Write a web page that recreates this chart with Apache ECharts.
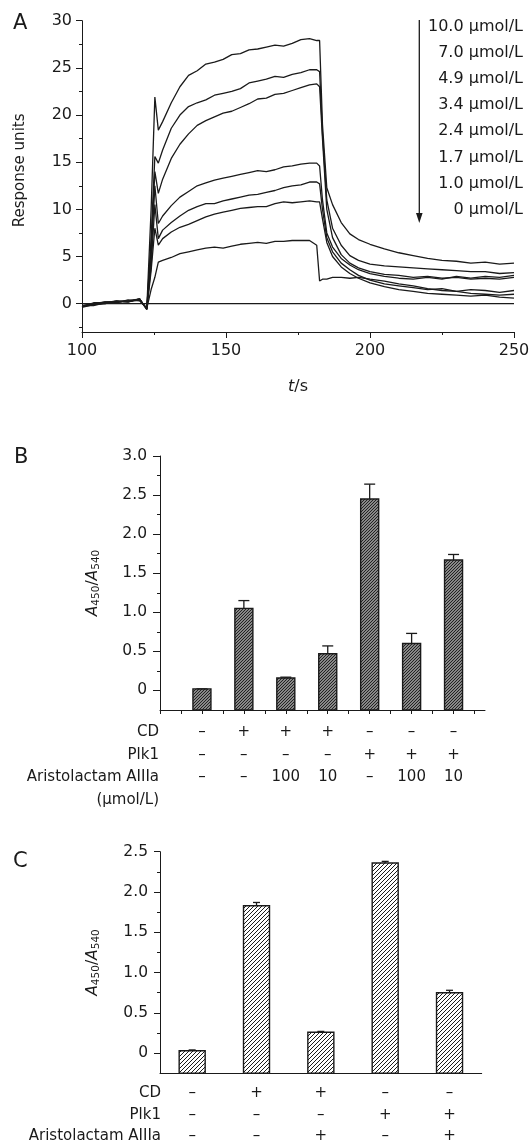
<!DOCTYPE html>
<html>
<head>
<meta charset="utf-8">
<script src="https://cdn.jsdelivr.net/npm/echarts@6/dist/echarts.min.js"></script>
<style>
  html, body { margin: 0; padding: 0; background: #fff; }
  #chart { width: 529px; height: 1147px; }
</style>
</head>
<body>
<div id="chart"></div>
<script>
// ---- panel A: binding curves (t in s, response units) ----
var times = [100, 104, 108, 112, 116, 120, 122.5, 124, 125.3, 126.5,
  128, 131, 134, 137, 140, 143, 146, 149, 152, 155, 158, 161, 164, 167, 170, 173, 176, 179,
  181.5, 182.5, 183.5, 185, 187, 190, 193, 196, 200,
  205, 210, 215, 220, 225, 230, 235, 240, 245, 250];

var resp100 = [-0.3, -0.1, 0.1, 0.2, 0.3, 0.4, -0.5, 10.0, 21.9, 18.4,
  19.3, 21.3, 23.0, 24.2, 24.7, 25.4, 25.6, 25.9, 26.4, 26.5, 26.9, 27.0, 27.2, 27.4, 27.3, 27.6, 28.0, 28.1,
  27.9, 27.9, 19.0, 12.3, 10.5, 8.6, 7.4, 6.8, 6.3,
  5.8, 5.4, 5.1, 4.8, 4.6, 4.5, 4.3, 4.4, 4.2, 4.3];
var resp70 = [-0.2, 0.0, 0.0, 0.3, 0.2, 0.5, -0.6, 7.0, 15.6, 14.9,
  16.3, 18.6, 20.0, 20.9, 21.3, 21.6, 22.1, 22.3, 22.5, 22.8, 23.4, 23.6, 23.8, 24.1, 24.0, 24.3, 24.5, 24.8,
  24.8, 24.6, 18.0, 11.0, 8.0, 6.2, 5.1, 4.6, 4.2,
  4.0, 3.9, 3.8, 3.7, 3.6, 3.5, 3.4, 3.4, 3.2, 3.3];
var resp49 = [-0.4, -0.1, 0.2, 0.1, 0.4, 0.3, -0.5, 6.0, 14.0, 11.7,
  13.2, 15.4, 16.9, 18.0, 18.9, 19.4, 19.8, 20.2, 20.4, 20.8, 21.2, 21.7, 21.8, 22.2, 22.3, 22.6, 22.9, 23.2,
  23.3, 23.0, 17.5, 10.0, 7.0, 5.2, 4.3, 3.8, 3.4,
  3.1, 3.0, 2.8, 2.9, 2.7, 2.8, 2.6, 2.7, 2.6, 2.8];
var resp34 = [-0.2, -0.2, 0.1, 0.3, 0.2, 0.5, -0.6, 5.0, 12.5, 8.5,
  9.3, 10.4, 11.3, 11.9, 12.5, 12.8, 13.1, 13.3, 13.5, 13.7, 13.9, 14.1, 14.0, 14.2, 14.5, 14.6, 14.8, 14.9,
  14.9, 14.6, 11.0, 7.5, 6.0, 4.8, 4.1, 3.6, 3.2,
  2.9, 2.7, 2.6, 2.8, 2.6, 2.9, 2.7, 2.9, 2.8, 3.0];
var resp24 = [-0.3, 0.0, 0.2, 0.2, 0.3, 0.4, -0.5, 4.0, 10.5, 6.9,
  7.8, 8.6, 9.3, 9.9, 10.3, 10.6, 10.6, 10.9, 11.1, 11.3, 11.5, 11.6, 11.8, 12.0, 12.3, 12.5, 12.6, 12.9,
  12.9, 12.7, 10.0, 7.0, 5.5, 4.3, 3.6, 3.0, 2.5,
  2.1, 1.9, 1.7, 1.5, 1.6, 1.3, 1.5, 1.4, 1.2, 1.4];
var resp17 = [-0.2, -0.1, 0.0, 0.2, 0.3, 0.5, -0.6, 3.5, 8.0, 6.2,
  6.9, 7.6, 8.1, 8.4, 8.8, 9.2, 9.5, 9.7, 9.9, 10.1, 10.2, 10.3, 10.3, 10.6, 10.8, 10.7, 10.8, 10.9,
  10.8, 10.8, 9.0, 6.5, 5.0, 3.9, 3.2, 2.7, 2.2,
  1.8, 1.5, 1.3, 1.1, 1.0, 0.9, 0.8, 0.9, 0.7, 0.6];
var resp10 = [-0.3, 0.1, 0.1, 0.2, 0.2, 0.4, -0.5, 1.5, 2.8, 4.4,
  4.6, 4.9, 5.3, 5.5, 5.7, 5.9, 6.0, 5.9, 6.1, 6.3, 6.4, 6.5, 6.4, 6.6, 6.6, 6.7, 6.7, 6.7,
  6.2, 2.4, 2.6, 2.6, 2.8, 2.8, 2.7, 2.8, 2.6,
  2.4, 2.1, 1.9, 1.6, 1.4, 1.3, 1.1, 1.0, 0.9, 1.0];
var resp0 = [0, 0, 0, 0, 0, 0, 0, 0, 0, 0,
  0, 0, 0, 0, 0, 0, 0, 0, 0, 0, 0, 0, 0, 0, 0, 0, 0, 0,
  0, 0, 0, 0, 0, 0, 0, 0, 0,
  0, 0, 0, 0, 0, 0, 0, 0, 0, 0];
var curves = [resp100, resp70, resp49, resp34, resp24, resp17, resp10, resp0];
var concLabels = ['10.0 μmol/L', '7.0 μmol/L', '4.9 μmol/L', '3.4 μmol/L',
  '2.4 μmol/L', '1.7 μmol/L', '1.0 μmol/L', '0 μmol/L'];
var aTicks = [0, 5, 10, 15, 20, 25, 30];
var aMinorTicks = [-2.5, 2.5, 7.5, 12.5, 17.5, 22.5, 27.5];

// ---- panel B ----
var bRowCD = ['–', '+', '+', '+', '–', '–', '–'];
var bRowPlk1 = ['–', '–', '–', '–', '+', '+', '+'];
var bRowAA = ['–', '–', '100', '10', '–', '100', '10'];
var bValues = [0.02, 1.05, 0.16, 0.47, 2.45, 0.60, 1.67];
var bErrors = [0, 0.10, 0.01, 0.10, 0.19, 0.13, 0.07];
var bTicks = [0, 0.5, 1, 1.5, 2, 2.5, 3];
var bMinorTicks = [0.25, 0.75, 1.25, 1.75, 2.25, 2.75];
var bXTicks = [0, 0.5, 1, 1.5, 2, 2.5, 3, 3.5, 4, 4.5, 5, 5.5, 6, 6.5, 7, 7.5];
var bSlots = [1, 2, 3, 4, 5, 6, 7];

// ---- panel C ----
var cGroups = ['ctrl', 'CD', 'CD+AA', 'Plk1', 'Plk1+AA'];
var cRowCD = ['–', '+', '+', '–', '–'];
var cRowPlk1 = ['–', '–', '–', '+', '+'];
var cRowAA = ['–', '–', '+', '–', '+'];
var cValues = [0.03, 1.83, 0.26, 2.36, 0.75];
var cErrors = [0.01, 0.04, 0.01, 0.02, 0.03];
var cTicks = [0, 0.5, 1, 1.5, 2, 2.5];
var cMinorTicks = [0.25, 0.75, 1.25, 1.75, 2.25];

var font = 'DejaVu Sans';
var ink = '#1a1a1a';
var bMin = -0.25, cMin = -0.25;

function hatch(bg, step, lw) {
  var c = document.createElement('canvas');
  c.width = step; c.height = step;
  var g = c.getContext('2d');
  g.fillStyle = bg;
  g.fillRect(0, 0, step, step);
  g.strokeStyle = '#1c1c1c';
  g.lineWidth = lw;
  g.beginPath();
  g.moveTo(-1, step + 1); g.lineTo(step + 1, -1);
  g.moveTo(-1, 1); g.lineTo(1, -1);
  g.moveTo(step - 1, step + 1); g.lineTo(step + 1, step - 1);
  g.stroke();
  return c;
}
var bPattern = { image: hatch('#b4b4b4', 3, 1.1), repeat: 'repeat' };
var cPattern = { image: hatch('#ffffff', 4, 1), repeat: 'repeat' };

function barItem(width, base, pattern) {
  return function (params, api) {
    var top = api.coord([api.value(0), api.value(1)]);
    var bottom = api.coord([api.value(0), base]);
    return {
      type: 'rect',
      shape: { x: top[0] - width / 2, y: top[1], width: width, height: bottom[1] - top[1] },
      style: { fill: pattern, stroke: ink, lineWidth: 1.4 }
    };
  };
}
function errItem(cap) {
  return function (params, api) {
    var lo = api.coord([api.value(0), api.value(1)]);
    var hi = api.coord([api.value(0), api.value(2)]);
    return {
      type: 'group',
      children: [
        { type: 'line', shape: { x1: lo[0], y1: lo[1], x2: hi[0], y2: hi[1] }, style: { stroke: ink, lineWidth: 1.3 } },
        { type: 'line', shape: { x1: hi[0] - cap / 2, y1: hi[1], x2: hi[0] + cap / 2, y2: hi[1] }, style: { stroke: ink, lineWidth: 1.3 } }
      ]
    };
  };
}

function rowAxisB(name, row, offset) {
  return {
    gridIndex: 1, type: 'value', min: 0, max: 7.75, position: 'bottom', offset: offset,
    axisLine: { show: false, onZero: false }, axisTick: { show: false }, splitLine: { show: false },
    axisLabel: {
      show: row !== null, customValues: bSlots, margin: 0, verticalAlign: 'middle',
      color: ink, fontFamily: font, fontSize: 15,
      formatter: function (v) { return row ? row[Math.round(v) - 1] : ''; }
    },
    name: name, nameLocation: 'start', nameGap: 1,
    nameTextStyle: { color: ink, fontFamily: font, fontSize: 15, align: 'right', verticalAlign: 'middle' }
  };
}
function rowAxisC(name, row, offset) {
  return {
    gridIndex: 2, type: 'category', data: cGroups, position: 'bottom', offset: offset,
    axisLine: { show: false, onZero: false }, axisTick: { show: false }, splitLine: { show: false },
    axisLabel: {
      interval: 0, margin: 0, verticalAlign: 'middle', color: ink, fontFamily: font, fontSize: 15,
      formatter: function (v, i) { return row[i]; }
    },
    name: name, nameLocation: 'start', nameGap: -1,
    nameTextStyle: { color: ink, fontFamily: font, fontSize: 15, align: 'right', verticalAlign: 'middle' }
  };
}
var absName = '{i|A}{s|450}{n|/}{i|A}{s|540}';
var absRich = {
  i: { fontStyle: 'italic', fontFamily: font, fontSize: 15.5, color: ink, lineHeight: 18 },
  n: { fontFamily: font, fontSize: 15.5, color: ink, lineHeight: 18 },
  s: { fontFamily: font, fontSize: 10.5, color: ink, lineHeight: 11, verticalAlign: 'bottom' }
};

var chart = echarts.init(document.getElementById('chart'));
chart.setOption({
  animation: false,
  backgroundColor: '#fff',
  grid: [
    { left: 82, top: 20.7, width: 432, height: 311.3, outerBoundsMode: 'none' },
    { left: 160, top: 456, width: 325, height: 254, outerBoundsMode: 'none' },
    { left: 160, top: 851.7, width: 321.7, height: 221.6, outerBoundsMode: 'none' }
  ],
  xAxis: [
    {
      gridIndex: 0, type: 'value', min: 100, max: 250, interval: 50, position: 'bottom',
      axisLine: { onZero: false, lineStyle: { color: ink, width: 1 } },
      axisTick: { length: 6, lineStyle: { color: ink } },
      minorTick: { show: true, splitNumber: 2, length: 3, lineStyle: { color: ink } },
      splitLine: { show: false }, minorSplitLine: { show: false },
      axisLabel: { color: ink, fontFamily: font, fontSize: 16, margin: 11 },
      name: '{i|t}/s', nameLocation: 'middle', nameGap: 47,
      nameTextStyle: { color: ink, fontFamily: font, fontSize: 16,
        rich: { i: { fontStyle: 'italic', fontFamily: font, fontSize: 16, color: ink } } }
    },
    {
      gridIndex: 1, type: 'value', min: 0, max: 7.75, position: 'bottom',
      axisLine: { onZero: false, lineStyle: { color: ink, width: 1 } },
      axisTick: { customValues: bXTicks, length: 4, lineStyle: { color: ink } },
      axisLabel: { show: false }, splitLine: { show: false }
    },
    rowAxisB('CD', bRowCD, 21.7),
    rowAxisB('Plk1', bRowPlk1, 45),
    rowAxisB('Aristolactam AIIIa', bRowAA, 66.7),
    rowAxisB('(μmol/L)', null, 90),
    {
      gridIndex: 2, type: 'category', data: cGroups, position: 'bottom',
      axisLine: { onZero: false, lineStyle: { color: ink, width: 1 } },
      axisTick: { show: false }, axisLabel: { show: false }, splitLine: { show: false }
    },
    rowAxisC('CD', cRowCD, 20),
    rowAxisC('Plk1', cRowPlk1, 41.7),
    rowAxisC('Aristolactam AIIIa', cRowAA, 63.3)
  ],
  yAxis: [
    {
      gridIndex: 0, type: 'value', min: -3, max: 30, position: 'left',
      axisLine: { show: true, onZero: false, lineStyle: { color: ink, width: 1 } },
      axisTick: { show: true, length: 6, customValues: aTicks, lineStyle: { color: ink } },
      axisLabel: { customValues: aTicks, color: ink, fontFamily: font, fontSize: 16, margin: 10 },
      splitLine: { show: false },
      name: 'Response units', nameLocation: 'middle', nameGap: 54,
      nameTextStyle: { color: ink, fontFamily: font, fontSize: 15, padding: [0, 0, 0, 12] }
    },
    {
      gridIndex: 0, type: 'value', min: -3, max: 30, position: 'left',
      axisLine: { show: false, onZero: false },
      axisTick: { show: true, length: 3, customValues: aMinorTicks, lineStyle: { color: ink } },
      axisLabel: { show: false }, splitLine: { show: false }
    },
    {
      gridIndex: 1, type: 'value', min: bMin, max: 3, position: 'left',
      axisLine: { show: true, onZero: false, lineStyle: { color: ink, width: 1 } },
      axisTick: { show: true, length: 7, customValues: bTicks, lineStyle: { color: ink } },
      axisLabel: { customValues: bTicks, color: ink, fontFamily: font, fontSize: 15.5, margin: 13,
        formatter: function (v) { return v === 0 ? '0' : v.toFixed(1); } },
      splitLine: { show: false },
      name: absName, nameLocation: 'middle', nameGap: 58,
      nameTextStyle: { rich: absRich }
    },
    {
      gridIndex: 1, type: 'value', min: bMin, max: 3, position: 'left',
      axisLine: { show: false, onZero: false },
      axisTick: { show: true, length: 3, customValues: bMinorTicks, lineStyle: { color: ink } },
      axisLabel: { show: false }, splitLine: { show: false }
    },
    {
      gridIndex: 2, type: 'value', min: cMin, max: 2.5, position: 'left',
      axisLine: { show: true, onZero: false, lineStyle: { color: ink, width: 1 } },
      axisTick: { show: true, length: 6, customValues: cTicks, lineStyle: { color: ink } },
      axisLabel: { customValues: cTicks, color: ink, fontFamily: font, fontSize: 15.5, margin: 12,
        formatter: function (v) { return v === 0 ? '0' : v.toFixed(1); } },
      splitLine: { show: false },
      name: absName, nameLocation: 'middle', nameGap: 58,
      nameTextStyle: { rich: absRich }
    },
    {
      gridIndex: 2, type: 'value', min: cMin, max: 2.5, position: 'left',
      axisLine: { show: false, onZero: false },
      axisTick: { show: true, length: 3, customValues: cMinorTicks, lineStyle: { color: ink } },
      axisLabel: { show: false }, splitLine: { show: false }
    }
  ],
  graphic: [
    { type: 'text', x: 13, y: 24, style: { text: 'A', font: '21px "DejaVu Sans"', fill: ink, verticalAlign: 'middle' } },
    { type: 'text', x: 14, y: 458, style: { text: 'B', font: '21px "DejaVu Sans"', fill: ink, verticalAlign: 'middle' } },
    { type: 'text', x: 13, y: 862, style: { text: 'C', font: '21px "DejaVu Sans"', fill: ink, verticalAlign: 'middle' } },
    { type: 'line', shape: { x1: 419.3, y1: 20, x2: 419.3, y2: 215 }, style: { stroke: ink, lineWidth: 1.3 } },
    { type: 'polygon', shape: { points: [[416, 213], [422.6, 213], [419.3, 223]] }, style: { fill: ink } }
  ].concat(concLabels.map(function (s, i) {
    return { type: 'text', x: 523, y: 26.5 + i * 26.2,
      style: { text: s, font: '16px "DejaVu Sans"', fill: ink, align: 'right', verticalAlign: 'middle' } };
  })),
  series: curves.map(function (arr, k) {
    return {
      type: 'line', xAxisIndex: 0, yAxisIndex: 0, name: concLabels[k],
      data: times.map(function (t, i) { return [t, arr[i]]; }),
      symbol: 'none', smooth: false,
      lineStyle: { color: ink, width: 1.3 }
    };
  }).concat([
    {
      type: 'custom', xAxisIndex: 1, yAxisIndex: 2,
      data: bValues.map(function (v, i) { return [bSlots[i], v]; }),
      renderItem: barItem(18, bMin, bPattern)
    },
    {
      type: 'custom', xAxisIndex: 1, yAxisIndex: 2,
      data: bValues.map(function (v, i) { return [bSlots[i], v, v + bErrors[i]]; }),
      renderItem: errItem(11)
    },
    {
      type: 'custom', xAxisIndex: 6, yAxisIndex: 4,
      data: cValues.map(function (v, i) { return [i, v]; }),
      renderItem: barItem(26, cMin, cPattern)
    },
    {
      type: 'custom', xAxisIndex: 6, yAxisIndex: 4,
      data: cValues.map(function (v, i) { return [i, v, v + cErrors[i]]; }),
      renderItem: errItem(7)
    }
  ])
});
</script>
</body>
</html>
